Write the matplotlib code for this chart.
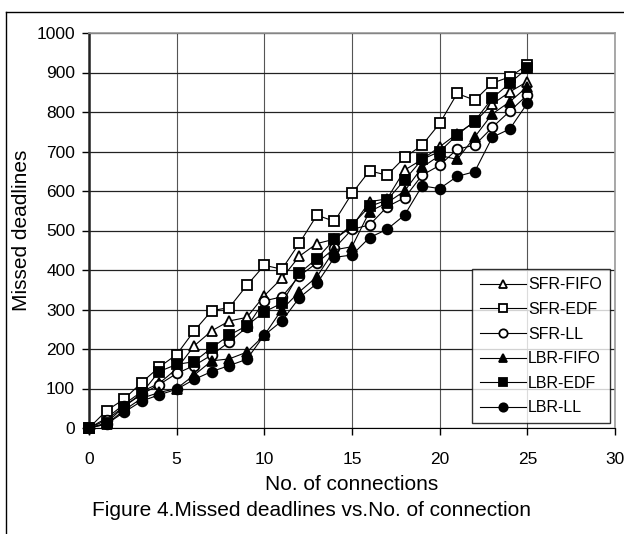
import matplotlib
matplotlib.use('Agg')
import matplotlib.pyplot as plt
from matplotlib.lines import Line2D

plt.rcParams['font.family'] = ['Liberation Sans', 'DejaVu Sans']

# connections 0..25
conns = list(range(26))

sfr_fifo = [0, 25, 60, 92, 113, 150, 208, 246, 271, 280, 335, 379, 435, 467, 478, 510, 573, 580, 653, 680, 712, 745, 775, 820, 851, 877]
sfr_edf = [0, 44, 73, 115, 154, 186, 246, 297, 305, 361, 412, 402, 468, 539, 523, 594, 651, 640, 685, 716, 771, 847, 830, 873, 889, 919]
sfr_ll = [0, 20, 55, 85, 110, 138, 158, 185, 218, 255, 322, 332, 385, 418, 455, 503, 514, 560, 583, 640, 665, 706, 716, 761, 802, 843]
lbr_fifo = [0, 10, 45, 75, 90, 100, 134, 170, 175, 192, 235, 300, 345, 383, 451, 459, 548, 570, 600, 660, 690, 680, 737, 795, 826, 864]
lbr_edf = [0, 13, 54, 88, 143, 161, 168, 203, 235, 259, 294, 316, 392, 429, 478, 514, 561, 577, 628, 680, 700, 742, 777, 835, 873, 911]
lbr_ll = [0, 10, 40, 68, 84, 98, 123, 143, 158, 174, 235, 271, 330, 366, 432, 438, 482, 503, 539, 613, 606, 637, 649, 736, 757, 822]

series = [
    ('SFR-FIFO', sfr_fifo, '^', 'white'),
    ('SFR-EDF', sfr_edf, 's', 'white'),
    ('SFR-LL', sfr_ll, 'o', 'white'),
    ('LBR-FIFO', lbr_fifo, '^', 'black'),
    ('LBR-EDF', lbr_edf, 's', 'black'),
    ('LBR-LL', lbr_ll, 'o', 'black'),
]

fig = plt.figure(figsize=(6.24, 5.34), dpi=100)
ax = fig.add_axes([89 / 624, 1 - 428 / 534, 526 / 624, 395 / 534])

for name, vals, mk, fc in series:
    ax.plot(conns, vals, color='black', lw=0.8, marker=mk, markersize=7,
            markerfacecolor=fc, markeredgecolor='black', markeredgewidth=1.3,
            label=name, clip_on=False, zorder=3)

ax.set_xlim(0, 30)
ax.set_ylim(0, 1000)
ax.set_xticks(range(0, 31, 5))
ax.set_yticks(range(0, 1001, 100))
ax.grid(axis='y', color='#222222', lw=0.9)
ax.grid(axis='x', color='#555555', lw=0.8)
ax.set_axisbelow(True)

ax.spines['left'].set_linewidth(1.8)
ax.spines['left'].set_color('#222222')
ax.spines['bottom'].set_color('black')
for s in ('top', 'right'):
    ax.spines[s].set_color('#999999')
    ax.spines[s].set_linewidth(1.2)

ax.tick_params(direction='out', length=5, width=1, labelsize=12.5)
ax.tick_params(axis='x', pad=12)
ax.tick_params(axis='y', pad=5)
ax.set_xlabel('No. of connections', fontsize=15, labelpad=6)
ax.set_ylabel('Missed deadlines', fontsize=15, labelpad=4)

leg = ax.legend(loc='lower right', bbox_to_anchor=(0.99, 0.012), fontsize=11.5,
                frameon=True, fancybox=False, edgecolor='black',
                handlelength=2.9, labelspacing=0.6, borderpad=0.5,
                handletextpad=0.1, borderaxespad=0)
leg.get_frame().set_linewidth(1.0)
for h in leg.legend_handles:
    h.set_markersize(6)

fig.text(312 / 624, 1 - 511 / 534, 'Figure 4.Missed deadlines vs.No. of connection',
         ha='center', va='center', fontsize=15)

# outer frame (partially cropped)
fig.add_artist(Line2D([6 / 624, 1], [1 - 12 / 534, 1 - 12 / 534], color='black', lw=1))
fig.add_artist(Line2D([6 / 624, 6 / 624], [0, 1 - 12 / 534], color='black', lw=1))

fig.savefig('out.png', dpi=100)
